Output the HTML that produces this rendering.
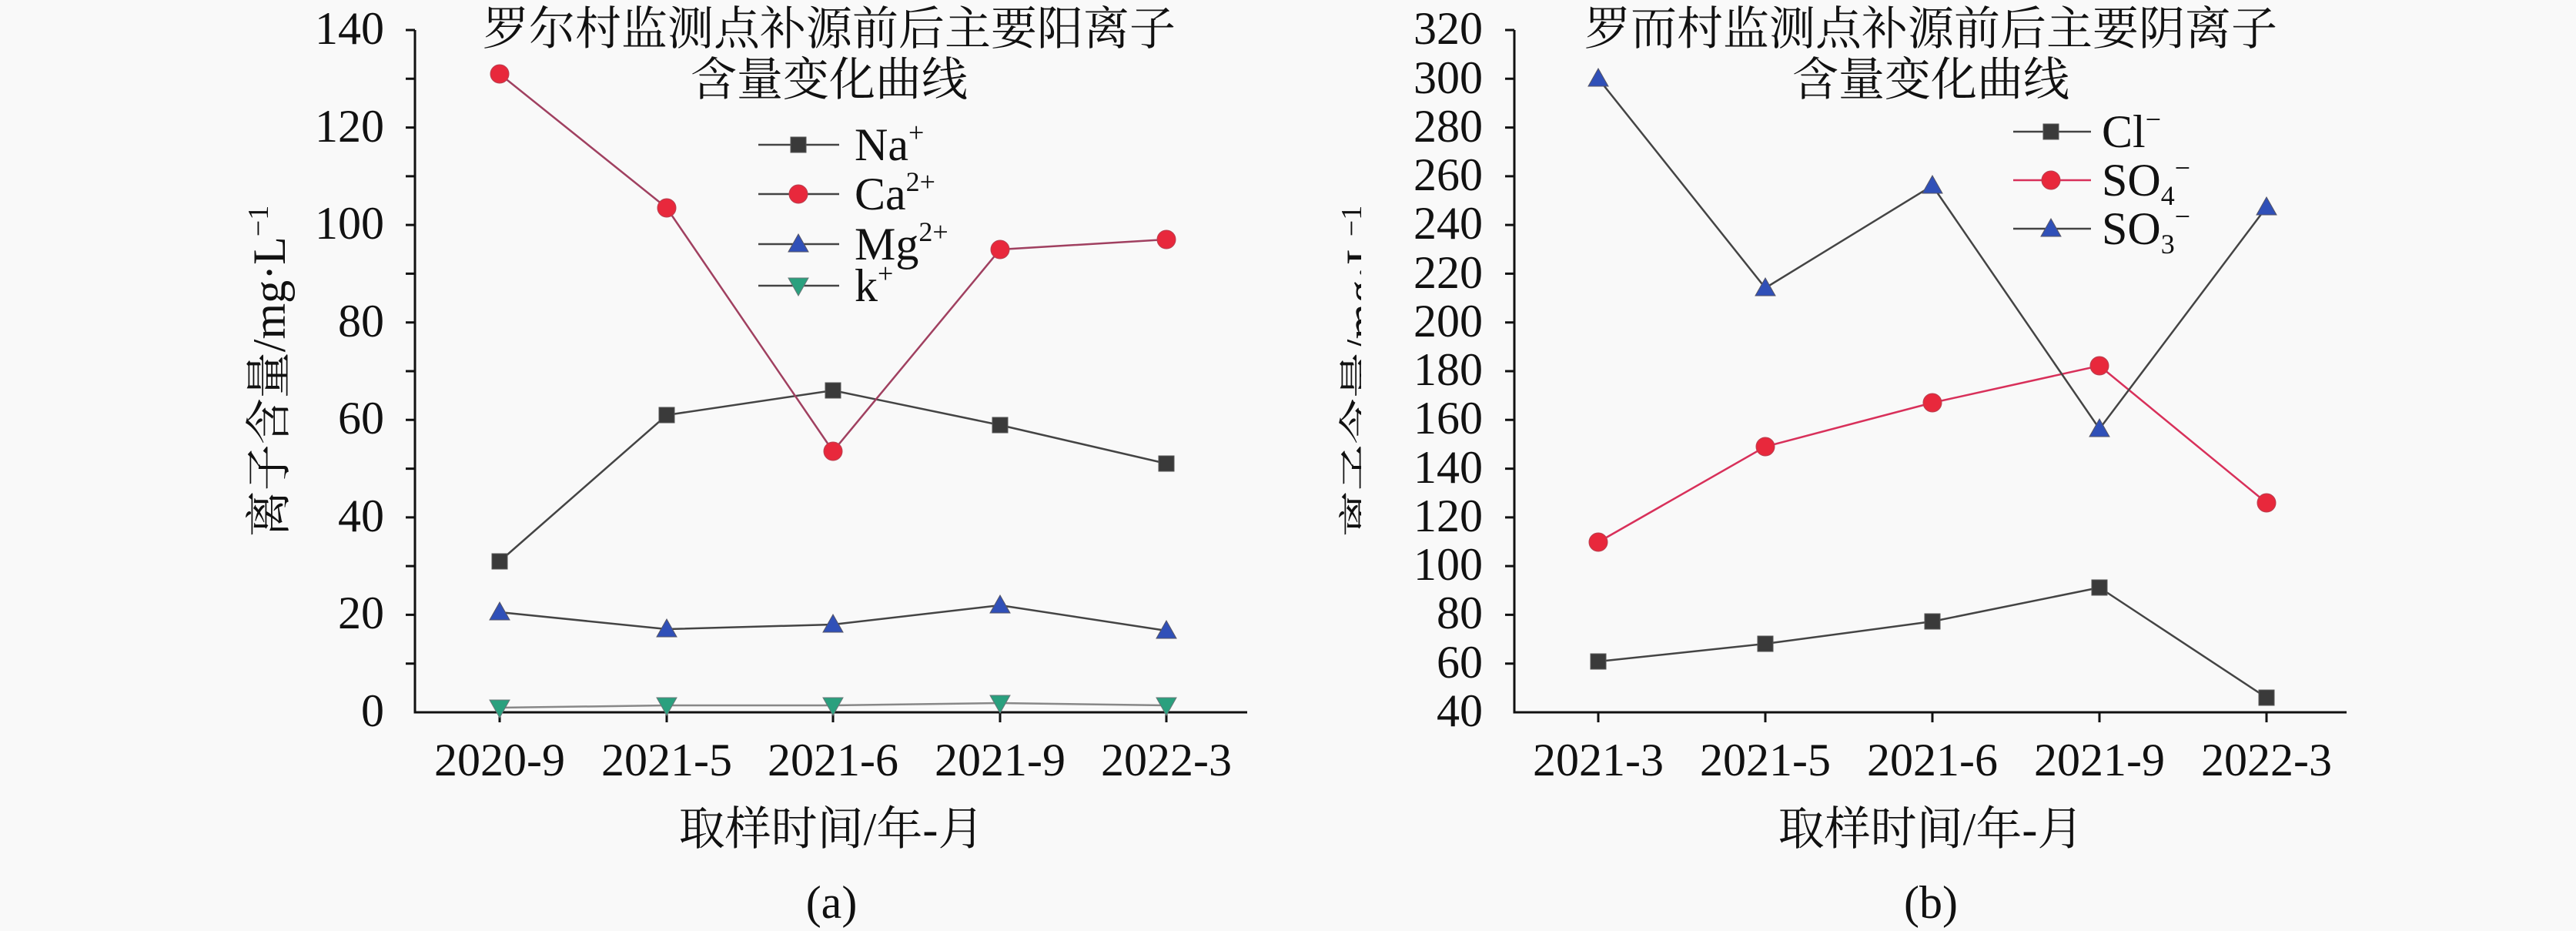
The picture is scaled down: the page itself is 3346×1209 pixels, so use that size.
<!DOCTYPE html>
<html><head><meta charset="utf-8"><style>
html,body{margin:0;padding:0;background:#f9f9f9}
svg{display:block}
text{font-family:"Liberation Serif","DejaVu Serif","Noto Serif CJK SC",serif;fill:#111}
</style></head><body>
<svg width="3346" height="1209" viewBox="0 0 3346 1209" xmlns="http://www.w3.org/2000/svg" font-family="Liberation Serif, DejaVu Serif, Noto Serif CJK SC, serif">
<rect width="3346" height="1209" fill="#f9f9f9"/>
<defs>
<rect id="sq" x="-10" y="-10" width="20" height="20" fill="#3a3a3a" stroke="#555" stroke-width="1"/>
<circle id="ci" r="12" fill="#e8283c" stroke="#b84050" stroke-width="1"/>
<polygon id="tu" points="0,-13 13,10 -13,10" fill="#3050b8" stroke="#556" stroke-width="1"/>
<polygon id="td" points="0,13 13,-10 -13,-10" fill="#2aa07e" stroke="#677" stroke-width="1"/>
</defs>

<!-- ===== Panel A ===== -->
<g stroke="#111" stroke-width="3" fill="none">
<path d="M539,39 V925 H1620"/>
<path d="M527,39H539 M527,102.3H539 M527,165.6H539 M527,228.9H539 M527,292.1H539 M527,355.4H539 M527,418.7H539 M527,482H539 M527,545.3H539 M527,608.6H539 M527,671.9H539 M527,735.1H539 M527,798.4H539 M527,861.7H539"/>
<path d="M649,925V938 M866,925V938 M1082,925V938 M1299,925V938 M1515,925V938"/>
</g>
<g font-size="60" text-anchor="end">
<text x="499" y="943">0</text><text x="499" y="816">20</text><text x="499" y="690">40</text>
<text x="499" y="563">60</text><text x="499" y="437">80</text><text x="499" y="310">100</text>
<text x="499" y="184">120</text><text x="499" y="57">140</text>
</g>
<g font-size="60" text-anchor="middle">
<text x="649" y="1007">2020-9</text><text x="866" y="1007">2021-5</text><text x="1082" y="1007">2021-6</text>
<text x="1299" y="1007">2021-9</text><text x="1515" y="1007">2022-3</text>
<text x="1080" y="1097">取样时间/年-月</text>
<text x="1080" y="1192">(a)</text>
<text x="1077" y="58">罗尔村监测点补源前后主要阳离子</text>
<text x="1077" y="124">含量变化曲线</text>
</g>
<text transform="translate(370,482) rotate(-90)" font-size="60" text-anchor="middle">离子含量/mg·L<tspan font-size="38" dy="-22">−1</tspan></text>

<polyline fill="none" stroke="#444" stroke-width="2.5" points="649,729 866,539 1082,507 1299,552 1515,602"/>
<polyline fill="none" stroke="#a04060" stroke-width="2.5" points="649,96 866,270 1082,586 1299,324 1515,311"/>
<polyline fill="none" stroke="#444" stroke-width="2.5" points="649,795 866,817 1082,811 1299,786 1515,819"/>
<polyline fill="none" stroke="#888" stroke-width="2.5" points="649,919 866,916 1082,916 1299,913 1515,916"/>
<use href="#sq" x="649" y="729"/><use href="#sq" x="866" y="539"/><use href="#sq" x="1082" y="507"/><use href="#sq" x="1299" y="552"/><use href="#sq" x="1515" y="602"/>
<use href="#ci" x="649" y="96"/><use href="#ci" x="866" y="270"/><use href="#ci" x="1082" y="586"/><use href="#ci" x="1299" y="324"/><use href="#ci" x="1515" y="311"/>
<use href="#tu" x="649" y="795"/><use href="#tu" x="866" y="817"/><use href="#tu" x="1082" y="811"/><use href="#tu" x="1299" y="786"/><use href="#tu" x="1515" y="819"/>
<use href="#td" x="649" y="919"/><use href="#td" x="866" y="916"/><use href="#td" x="1082" y="916"/><use href="#td" x="1299" y="913"/><use href="#td" x="1515" y="916"/>

<g stroke="#444" stroke-width="2.5"><path d="M985,188H1090 M985,252H1090 M985,317H1090 M985,371H1090"/></g>
<use href="#sq" x="1037" y="188"/><use href="#ci" x="1037" y="252"/><use href="#tu" x="1037" y="317"/><use href="#td" x="1037" y="371"/>
<g font-size="60">
<text x="1110" y="208">Na<tspan font-size="36" dy="-24">+</tspan></text>
<text x="1110" y="272">Ca<tspan font-size="36" dy="-24">2+</tspan></text>
<text x="1110" y="337">Mg<tspan font-size="36" dy="-24">2+</tspan></text>
<text x="1110" y="391">k<tspan font-size="36" dy="-24">+</tspan></text>
</g>

<!-- ===== Panel B ===== -->
<text transform="translate(1790,482) rotate(-90)" font-size="60" text-anchor="middle">离子含量/mg·L<tspan font-size="38" dy="-22">−1</tspan></text>
<rect x="1768" y="0" width="190" height="960" fill="#f9f9f9"/>
<g stroke="#111" stroke-width="3" fill="none">
<path d="M1967,39 V925 H3048"/>
<path d="M1955,39H1967 M1955,102.3H1967 M1955,165.6H1967 M1955,228.9H1967 M1955,292.1H1967 M1955,355.4H1967 M1955,418.7H1967 M1955,482H1967 M1955,545.3H1967 M1955,608.6H1967 M1955,671.9H1967 M1955,735.1H1967 M1955,798.4H1967 M1955,861.7H1967"/>
<path d="M2076,925V938 M2293,925V938 M2510,925V938 M2727,925V938 M2944,925V938"/>
</g>
<g font-size="60" text-anchor="end">
<text x="1926" y="943">40</text><text x="1926" y="880">60</text><text x="1926" y="816">80</text><text x="1926" y="753">100</text>
<text x="1926" y="690">120</text><text x="1926" y="627">140</text><text x="1926" y="563">160</text><text x="1926" y="500">180</text>
<text x="1926" y="437">200</text><text x="1926" y="374">220</text><text x="1926" y="310">240</text><text x="1926" y="247">260</text>
<text x="1926" y="184">280</text><text x="1926" y="121">300</text><text x="1926" y="57">320</text>
</g>
<g font-size="60" text-anchor="middle">
<text x="2076" y="1007">2021-3</text><text x="2293" y="1007">2021-5</text><text x="2510" y="1007">2021-6</text>
<text x="2727" y="1007">2021-9</text><text x="2944" y="1007">2022-3</text>
<text x="2508" y="1097">取样时间/年-月</text>
<text x="2508" y="1192">(b)</text>
<text x="2508" y="58">罗而村监测点补源前后主要阴离子</text>
<text x="2508" y="124">含量变化曲线</text>
</g>

<polyline fill="none" stroke="#444" stroke-width="2.5" points="2076,859 2293,836 2510,807 2727,763 2944,906"/>
<polyline fill="none" stroke="#d8305a" stroke-width="2.5" points="2076,704 2293,580 2510,523 2727,475 2944,653"/>
<polyline fill="none" stroke="#444" stroke-width="2.5" points="2076,102 2293,374 2510,241 2727,557 2944,269"/>
<use href="#sq" x="2076" y="859"/><use href="#sq" x="2293" y="836"/><use href="#sq" x="2510" y="807"/><use href="#sq" x="2727" y="763"/><use href="#sq" x="2944" y="906"/>
<use href="#ci" x="2076" y="704"/><use href="#ci" x="2293" y="580"/><use href="#ci" x="2510" y="523"/><use href="#ci" x="2727" y="475"/><use href="#ci" x="2944" y="653"/>
<use href="#tu" x="2076" y="102"/><use href="#tu" x="2293" y="374"/><use href="#tu" x="2510" y="241"/><use href="#tu" x="2727" y="557"/><use href="#tu" x="2944" y="269"/>

<path d="M2615,171H2716 M2615,297H2716" stroke="#444" stroke-width="2.5"/>
<path d="M2615,234H2716" stroke="#d8305a" stroke-width="2.5"/>
<use href="#sq" x="2664" y="171"/><use href="#ci" x="2664" y="234"/><use href="#tu" x="2664" y="297"/>
<g font-size="60">
<text x="2730" y="191">Cl<tspan font-size="36" dy="-24">−</tspan></text>
<text x="2730" y="254">SO<tspan font-size="36" dy="12">4</tspan><tspan font-size="36" dy="-36">−</tspan></text>
<text x="2730" y="317">SO<tspan font-size="36" dy="12">3</tspan><tspan font-size="36" dy="-36">−</tspan></text>
</g>
</svg>
</body></html>
